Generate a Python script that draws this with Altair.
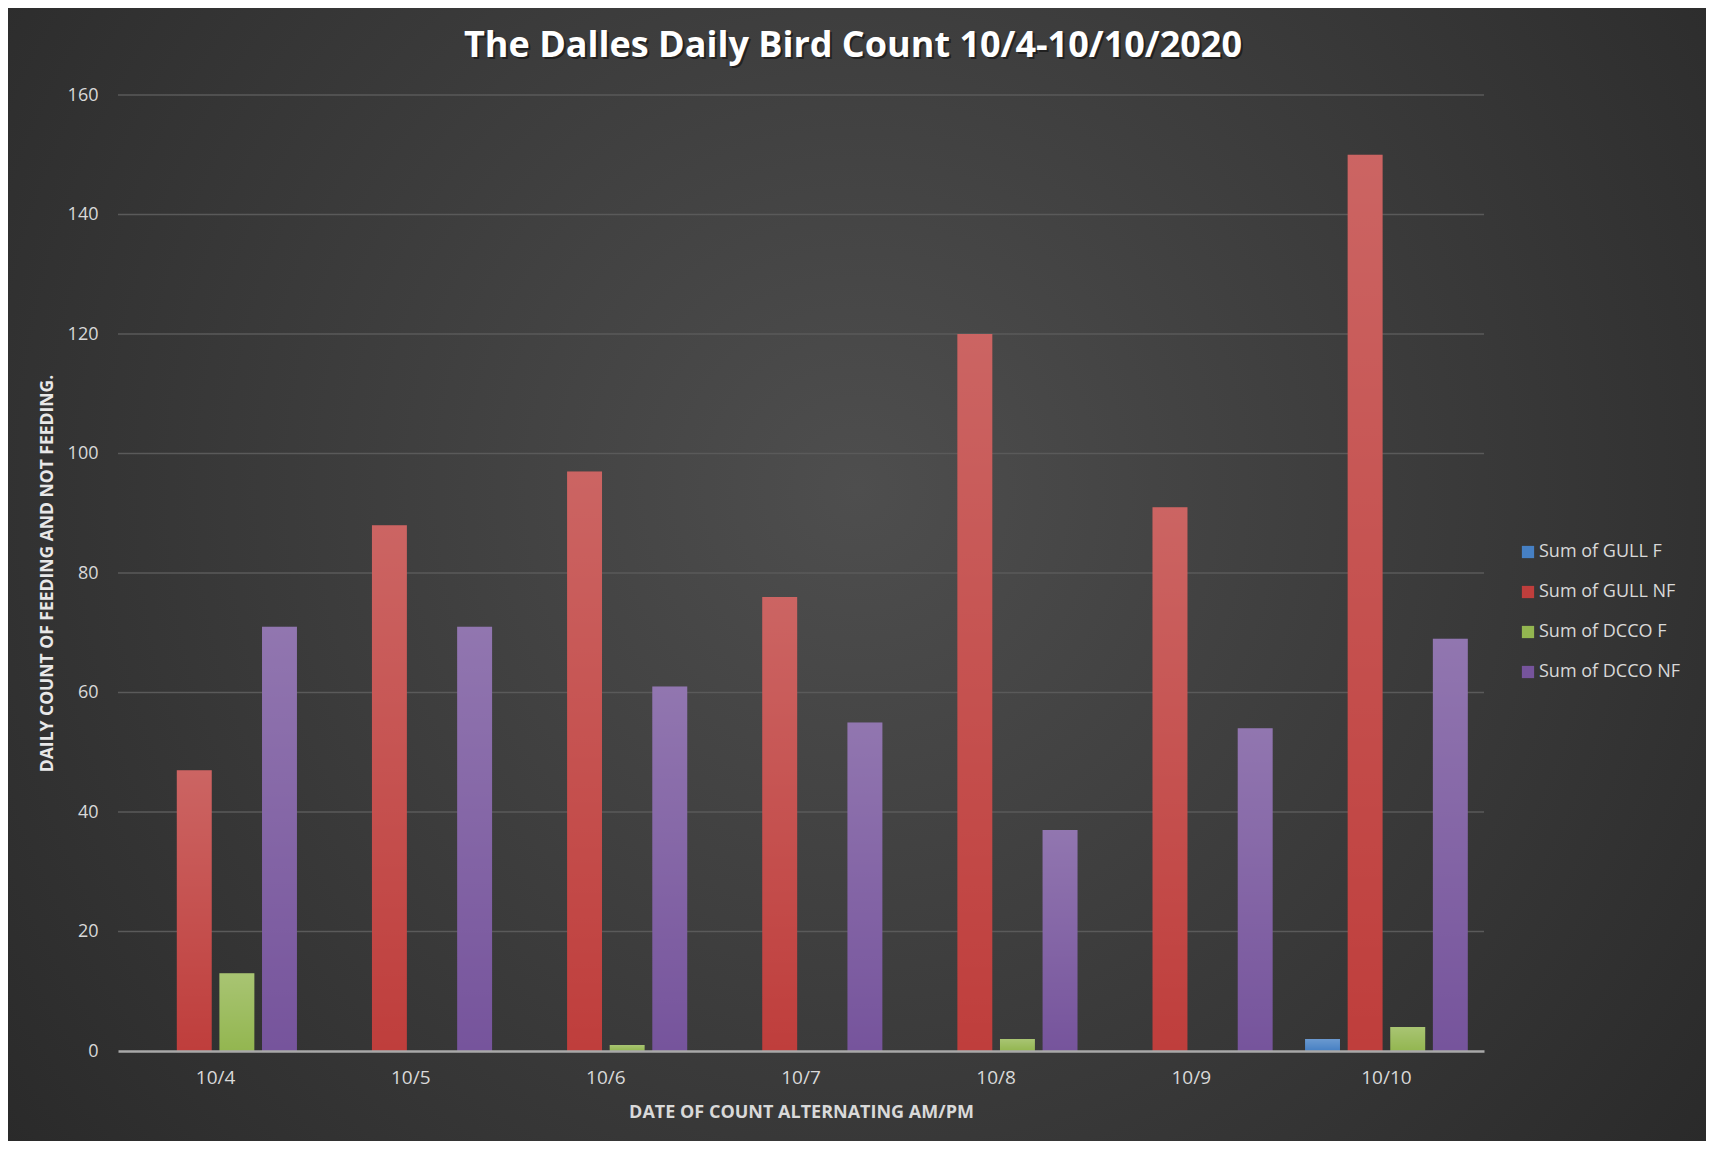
import altair as alt
import pandas as pd

title_text = ["The Dalles Daily Bird Count 10/4-10/10/2020"]
dates = ["10/4", "10/5", "10/6", "10/7", "10/8", "10/9", "10/10"]
series = ["Sum of GULL F", "Sum of GULL NF", "Sum of DCCO F", "Sum of DCCO NF"]
gull_f = [0, 0, 0, 0, 0, 0, 2]
gull_nf = [47, 88, 97, 76, 120, 91, 150]
dcco_f = [13, 0, 1, 0, 2, 0, 4]
dcco_nf = [71, 71, 61, 55, 37, 54, 69]
y_ticks = [0, 20, 40, 60, 80, 100, 120, 140, 160]
colors = ["#4680c4", "#bf3e3c", "#93b650", "#76549c"]

W, H = 1366, 956
PAD = {"left": 110, "top": 87, "right": 222, "bottom": 90}

rows = []
for name, vals in zip(series, [gull_f, gull_nf, dcco_f, dcco_nf]):
    for d, v in zip(dates, vals):
        rows.append({"Date": d, "Series": name, "Value": v})
df = pd.DataFrame(rows)

FONT = "Open Sans"

bg = alt.Chart(pd.DataFrame({"a": [0]})).mark_rect(
    fill={
        "gradient": "radial",
        "x1": 0.5, "y1": 0.45, "r1": 0,
        "x2": 0.5, "y2": 0.45, "r2": 0.72,
        "stops": [
            {"offset": 0, "color": "#4e4e4e"},
            {"offset": 1, "color": "#252525"},
        ],
    },
    clip=False,
).encode(
    x=alt.value(-PAD["left"]),
    x2=alt.value(W + PAD["right"]),
    y=alt.value(-PAD["top"]),
    y2=alt.value(H + PAD["bottom"]),
)

title_df = pd.DataFrame({"t": title_text})
title_shadow = alt.Chart(title_df).mark_text(
    font=FONT, fontSize=36, fontWeight="bold", color="#000000", opacity=0.45,
    align="center", baseline="middle", clip=False,
).encode(text="t:N", x=alt.value(W / 2 + 52 + 2), y=alt.value(-49 + 2))
title_mark = alt.Chart(title_df).mark_text(
    font=FONT, fontSize=36, fontWeight="bold", color="#ffffff",
    align="center", baseline="middle", clip=False,
).encode(text="t:N", x=alt.value(W / 2 + 52), y=alt.value(-49))

grid = alt.Chart(pd.DataFrame({"t": y_ticks[1:]})).mark_rule(
    color="#5a5a5a", strokeWidth=1.5
).encode(
    y=alt.Y("t:Q", scale=alt.Scale(domain=[0, 160])),
    x=alt.value(0),
    x2=alt.value(W),
)

xenc = alt.X(
    "Date:N",
    sort=dates,
    scale=alt.Scale(paddingInner=0.166, paddingOuter=0.083),
    axis=alt.Axis(
        title="DATE OF COUNT ALTERNATING AM/PM",
        titleFont=FONT, titleFontSize=18, titleFontWeight="bold",
        titleColor="#d9d9d9", titleX=W / 2, titleY=61, titleBaseline="middle",
        labelFont=FONT, labelFontSize=19, labelColor="#d9d9d9",
        labelAngle=0, labelPadding=17, ticks=False,
        domainColor="#a8a8a8", domainWidth=2.5, zindex=1,
    ),
)
yenc = alt.Y(
    "Value:Q",
    scale=alt.Scale(domain=[0, 160]),
    axis=alt.Axis(
        values=y_ticks,
        title="DAILY COUNT OF FEEDING AND NOT FEEDING.",
        titleFont=FONT, titleFontSize=17.5, titleFontWeight="bold",
        titleColor="#e8e8e8", titleX=-71, titleY=H / 2, titleAngle=-90,
        titleAlign="center", titleBaseline="middle",
        labelFont=FONT, labelFontSize=18, labelColor="#d9d9d9",
        labelPadding=20, ticks=False, domain=False, grid=False, zindex=1,
    ),
)
xoff = alt.XOffset("Series:N", sort=series,
                   scale=alt.Scale(paddingInner=0.18, paddingOuter=0))

bars = alt.Chart(df).mark_bar().encode(
    x=xenc,
    y=yenc,
    xOffset=xoff,
    color=alt.Color(
        "Series:N",
        sort=series,
        scale=alt.Scale(domain=series, range=colors),
        legend=alt.Legend(
            title=None, orient="none", legendX=1401, legendY=448,
            symbolType="square", symbolSize=150, symbolStrokeWidth=0,
            labelFont=FONT, labelFontSize=18, labelColor="#d9d9d9",
            rowPadding=22, labelOffset=2,
        ),
    ),
)

shine = alt.Chart(df).mark_bar(
    fill={
        "gradient": "linear",
        "x1": 0, "y1": 0, "x2": 0, "y2": 1,
        "stops": [
            {"offset": 0, "color": "rgba(255,255,255,0.2)"},
            {"offset": 1, "color": "rgba(255,255,255,0)"},
        ],
    }
).encode(
    x=alt.X("Date:N", sort=dates),
    y=alt.Y("Value:Q"),
    xOffset=alt.XOffset("Series:N", sort=series),
)

chart = alt.layer(bg, grid, bars, shine, title_shadow, title_mark).properties(
    width=W,
    height=H,
    padding=PAD,
    autosize=alt.AutoSizeParams(type="none"),
    background="#2b2b2b",
).configure_view(stroke=None)

chart.save("out.html", embed_options={"renderer": "svg", "actions": False})
